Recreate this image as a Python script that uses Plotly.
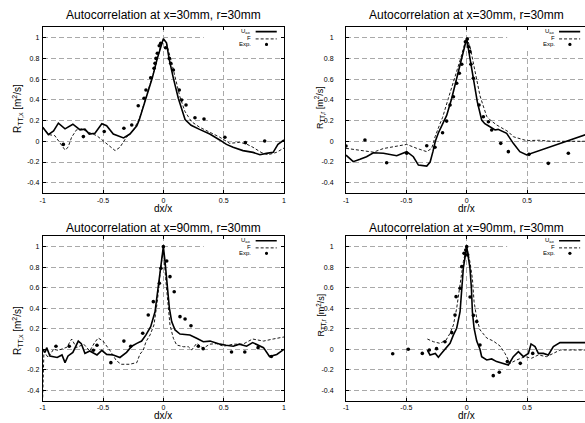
import plotly.graph_objects as go

# ---------------- data ----------------
x_ticks = [-1, -0.5, 0, 0.5, 1]
x_ticktext = ["-1", "-0.5", "0", "0.5", "1"]
y_ticks = [-0.4, -0.2, 0, 0.2, 0.4, 0.6, 0.8, 1]
y_ticktext = ["-0.4", "-0.2", "0", "0.2", "0.4", "0.6", "0.8", "1"]

titles = ["Autocorrelation at x=30mm, r=30mm", "Autocorrelation at x=30mm, r=30mm",
          "Autocorrelation at x=90mm, r=30mm", "Autocorrelation at x=90mm, r=30mm"]
x_titles = ["dx/x", "dr/x", "dx/x", "dr/x"]
y_titles = ["R<sub>TT,x</sub> [m<sup>2</sup>/s]", "R<sub>TT,r</sub> [m<sup>2</sup>/s]",
            "R<sub>TT,x</sub> [m<sup>2</sup>/s]", "R<sub>TT,r</sub> [m<sup>2</sup>/s]"]
legend_names = ["U<sub>ax</sub>", "F", "Exp."]

# top-left : x=30mm, dx/x
tl_uax_x = [-1, -0.953, -0.91, -0.87, -0.815, -0.75, -0.69, -0.65, -0.614, -0.567, -0.51, -0.47, -0.415,
            -0.33, -0.277, -0.22, -0.2, -0.144, -0.092, -0.05, -0.023, 0, 0.026, 0.047, 0.083, 0.124,
            0.18, 0.23, 0.3, 0.385, 0.467, 0.523, 0.578, 0.66, 0.743, 0.8, 0.854, 0.91, 0.95, 1.0]
tl_uax_y = [0.136, 0.065, 0.1, 0.175, 0.12, 0.165, 0.11, 0.117, 0.07, 0.078, 0.17, 0.15, 0.07,
            0.032, 0.07, 0.15, 0.205, 0.415, 0.61, 0.8, 0.91, 0.99, 0.95, 0.8, 0.61, 0.415,
            0.21, 0.155, 0.115, 0.07, 0.013, -0.03, -0.058, -0.09, -0.107, -0.13, -0.117, -0.107, -0.03, 0.013]
tl_f_x = [-1, -0.953, -0.9, -0.857, -0.815, -0.79, -0.76, -0.72, -0.677, -0.62, -0.553, -0.5, -0.443,
          -0.4, -0.36, -0.305, -0.25, -0.195, -0.14, -0.084, -0.043, -0.015, 0.004, 0.026, 0.06, 0.095,
          0.137, 0.178, 0.233, 0.3, 0.385, 0.467, 0.55, 0.633, 0.688, 0.743, 0.81, 0.868, 0.937, 1.0]
tl_f_y = [0.136, 0.065, 0.055, -0.01, -0.084, -0.058, 0.04, 0.11, 0.12, 0.087, 0.055, 0.006, -0.052,
          -0.09, -0.058, 0.04, 0.1, 0.23, 0.44, 0.65, 0.83, 0.95, 0.98, 0.945, 0.8, 0.63,
          0.43, 0.29, 0.19, 0.136, 0.087, 0.04, -0.02, -0.01, -0.026, -0.058, -0.107, -0.13, -0.107, -0.065]
tl_exp_x = [-0.829, -0.663, -0.49, -0.327, -0.262, -0.208, -0.16, -0.144, -0.105, -0.077, -0.069, -0.061,
            -0.05, -0.034, -0.022, 0.019, 0.049, 0.061, 0.083, 0.132, 0.152, 0.188, 0.262, 0.337,
            0.51, 0.68, 0.84]
tl_exp_y = [-0.03, 0.045, 0.094, 0.126, 0.157, 0.343, 0.415, 0.495, 0.613, 0.704, 0.752, 0.8,
            0.849, 0.922, 0.946, 0.903, 0.8, 0.752, 0.688, 0.495, 0.398, 0.35, 0.227, 0.215,
            0.039, -0.013, 0.003]

# top-right : x=30mm, dr/x
tr_uax_x = [-1.0, -0.94, -0.884, -0.83, -0.773, -0.69, -0.58, -0.497, -0.442, -0.4, -0.331, -0.303,
            -0.28, -0.26, -0.235, -0.2, -0.166, -0.124, -0.083, -0.041, 0, 0.027, 0.055, 0.088, 0.124,
            0.15, 0.179, 0.235, 0.26, 0.29, 0.331, 0.386, 0.44, 0.497, 1.0]
tr_uax_y = [-0.133, -0.197, -0.174, -0.149, -0.11, -0.116, -0.14, -0.1, -0.149, -0.23, -0.239, -0.2,
            -0.1, 0.0, 0.08, 0.16, 0.25, 0.415, 0.61, 0.8, 0.994, 0.8, 0.61, 0.38, 0.205,
            0.17, 0.15, 0.109, 0.115, 0.1, 0.077, -0.02, -0.1, -0.132, 0.07]
tr_f_x = [-1.0, -0.884, -0.773, -0.69, -0.58, -0.497, -0.414, -0.331, -0.29, -0.262, -0.221, -0.2,
          -0.152, -0.1, -0.05, -0.015, 0, 0.03, 0.06, 0.09, 0.11, 0.14, 0.166, 0.2, 0.249, 0.345,
          0.386, 0.497, 0.6, 0.7, 1.0]
tr_f_y = [-0.068, -0.085, -0.105, -0.07, -0.048, -0.03, -0.068, -0.1, -0.068, 0.044, 0.17, 0.23,
          0.415, 0.6, 0.8, 0.95, 1.0, 0.9, 0.72, 0.55, 0.44, 0.33, 0.24, 0.2, 0.157, 0.092,
          0.044, 0.006, 0.01, 0.0, 0.0]
tr_exp_x = [-1.0, -0.843, -0.663, -0.497, -0.331, -0.263, -0.2, -0.166, -0.138, -0.11, -0.083, -0.061,
            -0.041, -0.011, 0.005, 0.016, 0.027, 0.035, 0.055, 0.102, 0.138, 0.18, 0.207, 0.282,
            0.345, 0.516, 0.676, 0.842]
tr_exp_y = [-0.046, 0.012, -0.207, -0.116, -0.043, -0.058, 0.083, 0.195, 0.35, 0.43, 0.56, 0.656,
            0.743, 0.961, 0.987, 0.913, 0.865, 0.743, 0.608, 0.35, 0.237, 0.189, 0.109, -0.02,
            -0.1, -0.126, -0.213, -0.116]

# bottom-left : x=90mm, dx/x
bl_uax_x = [-1, -0.98, -0.967, -0.94, -0.88, -0.84, -0.815, -0.79, -0.75, -0.705, -0.68, -0.65, -0.61,
            -0.55, -0.51, -0.47, -0.415, -0.36, -0.305, -0.262, -0.22, -0.18, -0.144, -0.105, -0.069,
            -0.042, -0.02, 0, 0.014, 0.033, 0.05, 0.069, 0.097, 0.138, 0.22, 0.276, 0.331, 0.387,
            0.442, 0.47, 0.52, 0.58, 0.63, 0.69, 0.74, 0.83, 0.88, 0.94, 1.0]
bl_uax_y = [0.0, -0.03, 0.016, -0.065, -0.08, -0.055, -0.13, -0.065, -0.03, 0.08, 0.055, -0.04, -0.016,
            -0.055, -0.01, -0.05, -0.055, -0.08, -0.03, 0.03, 0.058, 0.08, 0.14, 0.22, 0.366,
            0.627, 0.854, 1.0, 0.854, 0.627, 0.4, 0.27, 0.188, 0.149, 0.14, 0.107, 0.074, 0.08,
            0.058, 0.05, 0.04, 0.03, 0.05, 0.03, 0.065, 0.016, -0.07, -0.05, 0.0]
bl_f_x = [-1, -0.99, -0.955, -0.91, -0.87, -0.8, -0.76, -0.72, -0.66, -0.61, -0.57, -0.54, -0.5,
          -0.44, -0.39, -0.35, -0.28, -0.22, -0.195, -0.166, -0.144, -0.11, -0.078, -0.05, -0.028,
          0, 0.019, 0.039, 0.055, 0.083, 0.11, 0.166, 0.207, 0.235, 0.276, 0.331, 0.385, 0.44,
          0.5, 0.58, 0.66, 0.74, 0.83, 0.91, 1.0]
bl_f_y = [-0.47, -0.02, -0.08, 0.0, -0.01, 0.02, 0.1, 0.016, 0.05, -0.016, 0.065, 0.11, 0.08,
          -0.016, -0.11, -0.146, -0.146, -0.13, -0.05, -0.007, 0.074, 0.14, 0.237, 0.464, 0.724,
          0.99, 0.69, 0.4, 0.237, 0.107, 0.042, 0.025, 0.025, -0.007, 0.058, 0.01, 0.05, 0.055,
          0.03, 0.05, 0.05, 0.1, 0.08, 0.1, 0.12]
bl_exp_x = [-0.89, -0.78, -0.58, -0.55, -0.435, -0.327, -0.27, -0.171, -0.125, -0.083, -0.033, -0.02,
            0, 0.028, 0.055, 0.09, 0.138, 0.18, 0.229, 0.29, 0.33, 0.565, 0.675, 0.785, 0.895]
bl_exp_y = [0.03, 0.03, -0.01, 0.04, -0.13, 0.08, 0.03, 0.156, 0.334, 0.464, 0.643, 0.79,
            1.0, 0.861, 0.708, 0.56, 0.318, 0.295, 0.23, 0.03, 0.006, -0.026, -0.026, 0.016, -0.07]

# bottom-right : x=90mm, dr/x
br_uax_x = [-0.326, -0.304, -0.26, -0.235, -0.21, -0.171, -0.138, -0.11, -0.083, -0.055, -0.041, -0.028,
            0, 0.027, 0.039, 0.047, 0.061, 0.083, 0.11, 0.124, 0.166, 0.207, 0.248, 0.304, 0.345,
            0.386, 0.428, 0.47, 0.511, 0.533, 0.566, 0.594, 0.635, 0.676, 0.718, 0.773, 0.81, 1.0]
br_uax_y = [-0.007, -0.055, -0.04, -0.078, -0.04, 0.01, 0.058, 0.14, 0.205, 0.366, 0.595, 0.79,
            1.0, 0.79, 0.595, 0.366, 0.205, 0.08, 0.0, -0.072, -0.104, -0.094, -0.12, -0.137, -0.153,
            -0.072, -0.023, -0.072, -0.04, 0.052, 0.026, -0.04, -0.04, -0.055, 0.026, 0.065, 0.065, 0.065]
br_f_x = [-0.326, -0.276, -0.221, -0.171, -0.138, -0.11, -0.083, -0.055, -0.028, 0, 0.027, 0.047,
          0.061, 0.083, 0.11, 0.166, 0.221, 0.276, 0.317, 0.359, 0.414, 0.483, 0.538, 0.594, 0.66,
          0.718, 0.773, 1.0]
br_f_y = [0.1, 0.074, 0.058, 0.09, 0.156, 0.237, 0.4, 0.627, 0.854, 1.0, 0.85, 0.69,
          0.464, 0.302, 0.19, 0.11, 0.08, 0.032, -0.04, -0.137, -0.104, -0.072, -0.087, -0.055, -0.072,
          -0.04, -0.007, -0.007]
br_exp_x = [-0.613, -0.484, -0.368, -0.31, -0.25, -0.18, -0.124, -0.097, -0.088, -0.055, -0.041, -0.022,
            -0.008, 0, 0.008, 0.028, 0.055, 0.083, 0.11, 0.22, 0.27, 0.337, 0.444, 0.547]
br_exp_y = [-0.043, 0.0, -0.04, -0.007, 0.006, 0.074, 0.162, 0.334, 0.513, 0.595, 0.805, 0.935,
            0.968, 1.0, 0.92, 0.51, 0.33, 0.27, 0.042, -0.257, -0.224, -0.12, -0.137, -0.04]

panels = [
    (tl_uax_x, tl_uax_y, tl_f_x, tl_f_y, tl_exp_x, tl_exp_y),
    (tr_uax_x, tr_uax_y, tr_f_x, tr_f_y, tr_exp_x, tr_exp_y),
    (bl_uax_x, bl_uax_y, bl_f_x, bl_f_y, bl_exp_x, bl_exp_y),
    (br_uax_x, br_uax_y, br_f_x, br_f_y, br_exp_x, br_exp_y),
]

# ---------------- layout geometry ----------------
W, H = 585, 423
FONT = "Liberation Sans, Arial, sans-serif"

def px_x(p):
    return p / W

def px_y(p):
    return 1 - p / H

x_domains = [[px_x(42.7), px_x(284)], [px_x(346), 1.0]] * 2
y_domains = [[px_y(193.1), px_y(27.3)]] * 2 + [[px_y(400.6), px_y(236.4)]] * 2
x_ranges = [[-1, 1], [-1, 0.98], [-1, 1], [-1, 0.98]]
title_pos = [(163.4, 15), (466.7, 15), (163.4, 228), (466.7, 228)]
xt_pos = [(163.4, 208.5), (466.7, 208.5), (163.4, 415), (466.7, 415)]
yt_pos = [(17, 109), (320, 108), (17, 331), (320.5, 315)]
yt_size = [10, 9, 10, 9]
yt_standoff = [1, 10, 1, 10]

fig = go.Figure()
layout = dict(
    width=W, height=H, margin=dict(l=0, r=0, t=0, b=0, autoexpand=False),
    paper_bgcolor="white", plot_bgcolor="white", showlegend=False,
    font=dict(family=FONT, color="black", size=10),
)
annotations = []
shapes = []

for i, (ux, uy, fx, fy, ex, ey) in enumerate(panels):
    k = "" if i == 0 else str(i + 1)
    xa, ya = "x" + k, "y" + k
    fig.add_trace(go.Scatter(x=ux, y=uy, mode="lines", xaxis=xa, yaxis=ya, name="U_ax",
                             line=dict(color="black", width=1.6)))
    fig.add_trace(go.Scatter(x=fx, y=fy, mode="lines", xaxis=xa, yaxis=ya, name="F",
                             line=dict(color="black", width=0.9, dash="3px,2px")))
    fig.add_trace(go.Scatter(x=ex, y=ey, mode="markers", xaxis=xa, yaxis=ya, name="Exp.",
                             marker=dict(color="black", size=3.6, symbol="circle")))
    right = i % 2 == 1
    common = dict(showline=True, linecolor="black", linewidth=1, ticks="inside", ticklen=3,
                  tickcolor="black", showgrid=True, gridcolor="#a9a9a9", gridwidth=1,
                  griddash="5px,3px", zeroline=False, tickfont=dict(size=7, family=FONT, color="black"))
    layout["xaxis" + k] = dict(domain=x_domains[i], range=x_ranges[i], anchor=ya,
                               tickvals=x_ticks, ticktext=x_ticktext, mirror="allticks", **common)
    layout["yaxis" + k] = dict(domain=y_domains[i], range=[-0.5, 1.1], anchor=xa,
                               tickvals=y_ticks, ticktext=y_ticktext,
                               mirror=False if right else "allticks",
                               ticklabelstandoff=yt_standoff[i], **common)
    # titles
    annotations.append(dict(text=titles[i], xref="paper", yref="paper", x=px_x(title_pos[i][0]),
                            y=px_y(title_pos[i][1]), xanchor="center", yanchor="middle",
                            showarrow=False, font=dict(size=12, family=FONT, color="black")))
    annotations.append(dict(text=x_titles[i], xref="paper", yref="paper", x=px_x(xt_pos[i][0]),
                            y=px_y(xt_pos[i][1]), xanchor="center", yanchor="middle",
                            showarrow=False, font=dict(size=10, family=FONT, color="black")))
    annotations.append(dict(text=y_titles[i], xref="paper", yref="paper", x=px_x(yt_pos[i][0]),
                            y=px_y(yt_pos[i][1]), xanchor="center", yanchor="middle", textangle=-90,
                            showarrow=False, font=dict(size=yt_size[i], family=FONT, color="black")))
    # key box (blanks the grid) and key entries
    xr = x_ranges[i][1]
    shapes.append(dict(type="rect", xref=xa, yref=ya, x0=0.335, x1=xr, y0=0.88, y1=1.1,
                       fillcolor="white", line=dict(width=0), layer="between"))
    rows = [1.058, 0.998, 0.935]
    for j, name in enumerate(legend_names):
        annotations.append(dict(text=name, xref=xa, yref=ya, x=0.745, y=rows[j], xanchor="right",
                                yanchor="middle", showarrow=False,
                                font=dict(size=6, family=FONT, color="black")))
    shapes.append(dict(type="line", xref=xa, yref=ya, x0=0.765, x1=0.94, y0=rows[0], y1=rows[0],
                       line=dict(color="black", width=1.6), layer="above"))
    shapes.append(dict(type="line", xref=xa, yref=ya, x0=0.765, x1=0.94, y0=rows[1] - 0.01,
                       y1=rows[1] - 0.01, line=dict(color="black", width=0.9, dash="3px,2px"),
                       layer="above"))
    shapes.append(dict(type="circle", xref=xa, yref=ya, xsizemode="pixel", ysizemode="pixel",
                       xanchor=0.855, yanchor=rows[2], x0=-1.6, x1=1.6, y0=-1.6, y1=1.6,
                       fillcolor="black", line=dict(width=0), layer="above"))

layout["annotations"] = annotations
layout["shapes"] = shapes
fig.update_layout(**layout)
fig.write_html("out.html", config={"displayModeBar": False},
               post_script="document.body.style.margin='0';document.body.style.overflow='hidden';")
